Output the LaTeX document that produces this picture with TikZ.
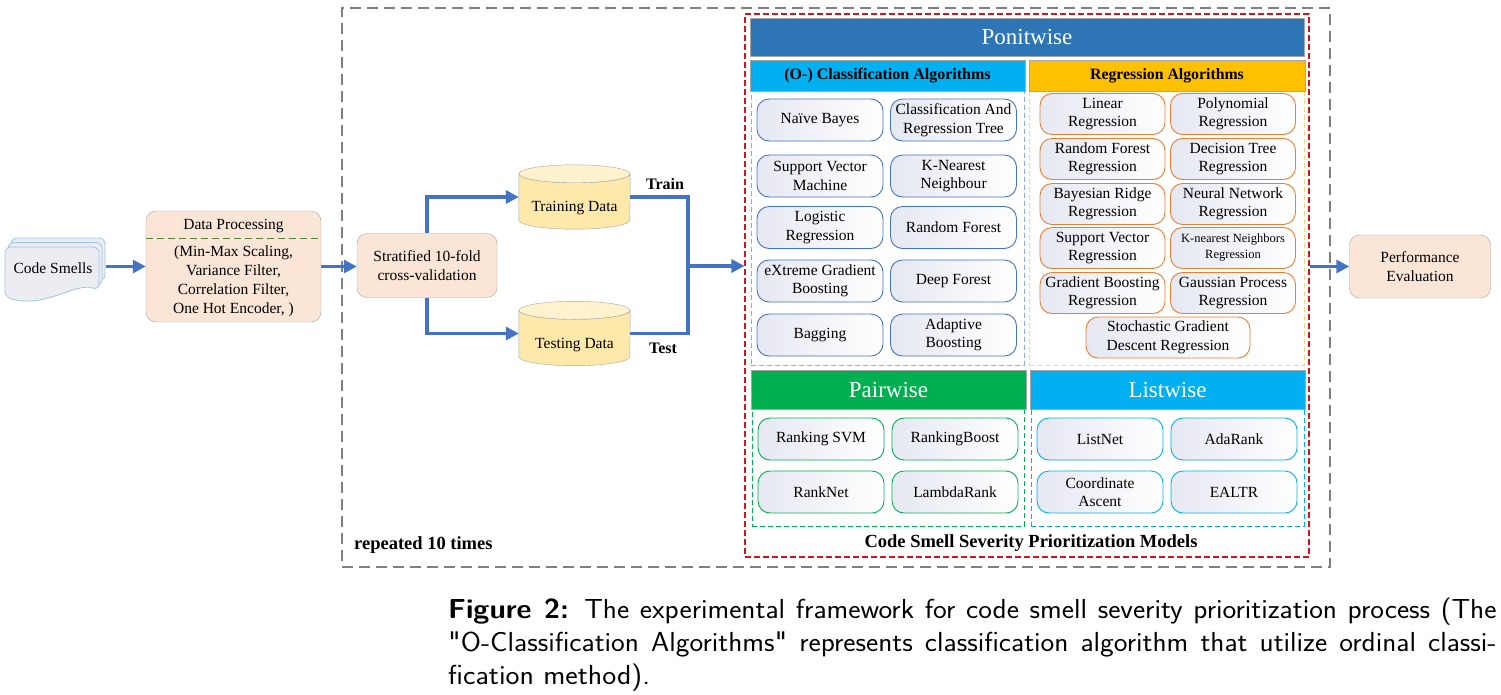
\documentclass[tikz,border=0pt]{standalone}
\usepackage{fontspec}
\setmainfont{Liberation Serif}
\usetikzlibrary{arrows.meta, shapes.geometric, calc, positioning}

\definecolor{flowBlue}{RGB}{68,114,196}
\definecolor{peach}{RGB}{251,229,214}
\definecolor{boxGray}{RGB}{165,165,165}
\definecolor{dbYellow}{RGB}{254,232,170}
\definecolor{dbTopYellow}{RGB}{255,242,204}
\definecolor{sepGreen}{RGB}{84,130,53}
\definecolor{frameGray}{RGB}{128,128,128}
\definecolor{frameRed}{RGB}{210,20,30}
\definecolor{ponitBlue}{RGB}{46,117,182}
\definecolor{skyCyan}{RGB}{0,176,240}
\definecolor{goldHead}{RGB}{255,192,0}
\definecolor{pairGreen}{RGB}{0,176,80}
\definecolor{clsDash}{RGB}{143,170,220}
\definecolor{regDash}{RGB}{255,217,102}
\definecolor{regEdge}{RGB}{237,125,49}
\definecolor{smellFill}{RGB}{236,237,242}
\definecolor{smellEdge}{RGB}{157,195,230}
\definecolor{shadeGray}{RGB}{230,232,242}

% straight double quote, without the tex-text mapping
\font\capQuote="[lmsans10-regular.otf]" at 27.5pt

\tikzset{
    txt/.style={font=\fontsize{15.5}{18.5}\selectfont, align=center, inner sep=0pt},
    boldTxt/.style={txt, font=\fontsize{16}{18.5}\selectfont\bfseries},
    bigBold/.style={txt, font=\fontsize{18.5}{21}\selectfont\bfseries},
    procBox/.style={txt, draw=boxGray, fill=peach, rounded corners=10pt, thin},
    algBox/.style={txt, rounded corners=12pt, line width=0.9pt, left color=shadeGray, right color=white, minimum height=42pt},
    clsAlg/.style={algBox, draw=flowBlue, minimum width=126pt},
    regAlg/.style={algBox, draw=regEdge, minimum width=125pt, minimum height=41pt},
    pairAlg/.style={algBox, draw=pairGreen, minimum width=126pt},
    listAlg/.style={algBox, draw=skyCyan, minimum width=126pt},
    headBar/.style={txt, draw=gray!70},
    bigHead/.style={headBar, text=white, font=\fontsize{23}{26}\selectfont},
    smallHead/.style={headBar, font=\fontsize{16}{18}\selectfont\bfseries, minimum height=31pt},
    panel/.style={fill=white, line width=0.9pt, dash pattern=on 5pt off 3pt, inner sep=0pt},
    dbSlot/.style={inner sep=0pt, minimum width=111pt, minimum height=64pt},
    dbBody/.style={draw=boxGray, fill=dbYellow, thin},
    dbTop/.style={draw=boxGray, fill=dbTopYellow, thin},
    flowArrow/.style={-{Triangle[length=13pt, width=13pt]}, draw=flowBlue, line width=3.2pt},
    flowLine/.style={draw=flowBlue, line width=3.2pt},
    smellPage/.style={draw=smellEdge, fill=smellFill, line width=0.8pt, rounded corners=6pt},
    capLine/.style={font=\fontsize{27.5}{33}\selectfont\sffamily, inner sep=0pt, anchor=base west},
}
\newcommand{\drawSmellPage}[2]{
    % one sheet of the stack, #1,#2 = top left corner
    \draw[smellPage] (#1,#2+30) -- (#1,#2) -- (#1+94,#2) -- (#1+94,#2+43)
        .. controls (#1+70,#2+35) and (#1+40,#2+62) .. (#1,#2+50) -- cycle;
}
\newcommand{\drawDataBase}[1]{
    % cylinder body, then the top face
    \draw[dbBody] ($(#1.north west)+(0,9)$) -- ($(#1.south west)+(0,-9)$)
        arc[start angle=180, end angle=0, x radius=55.5, y radius=9]
        -- ($(#1.north east)+(0,9)$)
        arc[start angle=0, end angle=180, x radius=55.5, y radius=9] -- cycle;
    \draw[dbTop] ($(#1.north)+(0,9)$) ellipse[x radius=55.5, y radius=9];
}
\newcommand{\capText}[1]{\scalebox{1.06}[1]{\makebox[989pt][s]{#1}}}
\newcommand{\straightQuote}{{\capQuote\char34}}

\begin{document}
\begin{tikzpicture}[x=1pt, y=-1pt]
    \useasboundingbox (0,0) rectangle (1501,694);

    % frames
    \node[draw=frameGray, line width=1.6pt, dash pattern=on 11pt off 6pt, minimum width=988pt, minimum height=559pt, inner sep=0pt] (repeatFrame) at (836,287.5) {};
    \node[draw=frameRed, line width=1.1pt, dash pattern=on 6pt off 3pt, minimum width=564pt, minimum height=543pt, inner sep=0pt] (models) at (1027,285.5) {};

    % panels
    \node[panel, draw=clsDash, minimum width=273pt, minimum height=274pt] (clsPanel) at (887.5,228) {};
    \node[panel, draw=regDash, minimum width=275pt, minimum height=274pt] (regPanel) at (1166.5,228) {};
    \node[panel, draw=pairGreen, minimum width=272pt, minimum height=117pt] (pairPanel) at (888,467.5) {};
    \node[panel, draw=skyCyan, minimum width=273pt, minimum height=117pt] (listPanel) at (1167.5,467.5) {};

    % headers
    \node[bigHead, fill=ponitBlue, minimum width=554pt, minimum height=38pt] (ponit) at (1027,37) {Ponitwise};
    \node[smallHead, fill=skyCyan, minimum width=275pt] (clsHead) at (887.5,75.5) {(O-) Classification Algorithms};
    \node[smallHead, fill=goldHead, minimum width=276pt, font=\fontsize{15.8}{18}\selectfont\bfseries] (regHead) at (1167,75.5) {Regression Algorithms};
    \node[bigHead, fill=pairGreen, minimum width=275pt, minimum height=39pt] (pairHead) at (888.5,389.5) {Pairwise};
    \node[bigHead, fill=skyCyan, minimum width=275pt, minimum height=39pt] (listHead) at (1167.5,389.5) {Listwise};

    % classification algorithms
    \node[clsAlg] (naiveBayes) at (820,120) {Naïve Bayes};
    \node[clsAlg] (cart) at (953.5,120) {Classification And\\Regression Tree};
    \node[clsAlg] (svm) at (820,176) {Support Vector\\Machine};
    \node[clsAlg] (knn) at (953.5,176) {K-Nearest\\Neighbour};
    \node[clsAlg] (logReg) at (820,227.5) {Logistic\\Regression};
    \node[clsAlg] (randForest) at (953.5,227.5) {Random Forest};
    \node[clsAlg] (xgb) at (820,281) {eXtreme Gradient\\Boosting};
    \node[clsAlg] (deepForest) at (953.5,281) {Deep Forest};
    \node[clsAlg] (bagging) at (820,335) {Bagging};
    \node[clsAlg] (adaBoost) at (953.5,335) {Adaptive\\Boosting};

    % regression algorithms
    \node[regAlg] (linReg) at (1102.5,114) {Linear\\Regression};
    \node[regAlg] (polyReg) at (1233,114) {Polynomial\\Regression};
    \node[regAlg] (rfReg) at (1102.5,159) {Random Forest\\Regression};
    \node[regAlg] (dtReg) at (1233,159) {Decision Tree\\Regression};
    \node[regAlg] (brReg) at (1102.5,204) {Bayesian Ridge\\Regression};
    \node[regAlg] (nnReg) at (1233,204) {Neural Network\\Regression};
    \node[regAlg] (svReg) at (1102.5,248) {Support Vector\\Regression};
    \node[regAlg, font=\fontsize{12.5}{16}\selectfont] (knnReg) at (1233,248) {K-nearest Neighbors\\Regression};
    \node[regAlg] (gbReg) at (1102.5,293) {Gradient Boosting\\Regression};
    \node[regAlg] (gpReg) at (1233,293) {Gaussian Process\\Regression};
    \node[regAlg, minimum width=164pt] (sgdReg) at (1168,337.5) {Stochastic Gradient\\Descent Regression};

    % pairwise and listwise
    \node[pairAlg] (rankSvm) at (821,439) {Ranking SVM};
    \node[pairAlg] (rankBoost) at (955,439) {RankingBoost};
    \node[pairAlg] (rankNet) at (821,492) {RankNet};
    \node[pairAlg] (lambdaRank) at (955,492) {LambdaRank};
    \node[listAlg] (listNet) at (1100,439) {ListNet};
    \node[listAlg] (adaRank) at (1234,439) {AdaRank};
    \node[listAlg] (coordAscent) at (1100,492) {Coordinate\\Ascent};
    \node[listAlg] (ealtr) at (1234,492) {EALTR};

    \node[bigBold] (modelsTitle) at (1031,543) {Code Smell Severity Prioritization Models};
    \node[bigBold, anchor=west] (repeatLbl) at (354,545) {repeated 10 times};

    % input side
    \drawSmellPage{11}{238}
    \drawSmellPage{8}{242.5}
    \drawSmellPage{5}{247}
    \node[txt, minimum width=106pt] (smells) at (53,268) {Code Smells};

    \node[procBox, minimum width=175pt, minimum height=111pt] (dataProc) at (233.5,266.5) {};
    \draw[sepGreen, line width=1.1pt, dash pattern=on 7pt off 4pt] ($(dataProc.north west)+(0,28)$) -- ($(dataProc.north east)+(0,28)$);
    \node[txt] (dpTitle) at (233.5,226) {Data Processing};
    \node[txt, font=\fontsize{15.5}{19}\selectfont] (dpSteps) at (233.5,281.5) {(Min-Max Scaling,\\Variance Filter,\\Correlation Filter,\\One Hot Encoder, )};

    \node[procBox, minimum width=140pt, minimum height=64pt] (strat) at (427,265.5) {Stratified 10-fold\\cross-validation};

    \node[dbSlot] (trainData) at (574.5,197) {};
    \drawDataBase{trainData}
    \node[txt] (trainTxt) at ($(trainData.center)+(0,11)$) {Training Data};
    \node[dbSlot] (testData) at (574.5,333.5) {};
    \drawDataBase{testData}
    \node[txt] (testTxt) at ($(testData.center)+(0,11.5)$) {Testing Data};

    \node[procBox, minimum width=141pt, minimum height=63pt] (perfEval) at (1420,266.5) {Performance\\Evaluation};

    \node[boldTxt] (trainLbl) at (665,184) {Train};
    \node[boldTxt] (testLbl) at (663,348) {Test};

    % connectors
    \coordinate (merge) at (688,266);
    \draw[flowArrow] (smells.east |- dataProc.west) -- (dataProc.west);
    \draw[flowArrow] (dataProc.east) -- (dataProc.east -| strat.west);
    \draw[flowArrow] (strat.north) |- (trainData.west);
    \draw[flowArrow] (strat.south) |- (testData.west);
    \draw[flowLine] (trainData.east) -| (merge);
    \draw[flowLine] (testData.east) -| (merge);
    \draw[flowArrow] (merge) -- (merge -| models.west);
    \draw[flowArrow] (models.east |- perfEval.west) -- (perfEval.west);

    % caption
    \node[capLine] (capA) at (448,618) {\capText{\textbf{Figure 2:} The experimental framework for code smell severity prioritization process (The}};
    \node[capLine] (capB) at (448,651) {\capText{\straightQuote O-Classification Algorithms\straightQuote{} represents classification algorithm that utilize ordinal classi-}};
    \node[capLine] (capC) at (448,684) {\scalebox{1.08}[1]{fication method).}};

\end{tikzpicture}
\end{document}
